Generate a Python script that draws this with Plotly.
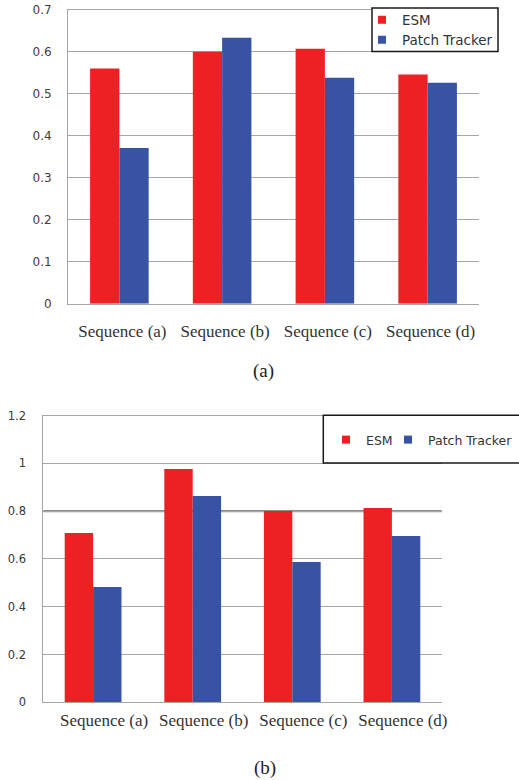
import plotly.graph_objects as go

# Tracking accuracy per sequence for the two trackers
categories = ["Sequence (a)", "Sequence (b)", "Sequence (c)", "Sequence (d)"]
esm_a = [0.56, 0.60, 0.607, 0.546]
patch_a = [0.371, 0.633, 0.538, 0.526]
esm_b = [0.708, 0.976, 0.80, 0.813]
patch_b = [0.482, 0.863, 0.587, 0.696]
series_names = ["ESM", "Patch Tracker"]
yticks_a = [0, 0.1, 0.2, 0.3, 0.4, 0.5, 0.6, 0.7]
yticks_b = [0, 0.2, 0.4, 0.6, 0.8, 1.0, 1.2]
ytext_b = ["0", "0.2", "0.4", "0.6", "0.8", "1", "1.2"]

RED = "#ED2024"
BLUE = "#3953A4"
GRID = "#a6a6a6"
W, H = 519, 780


def px_x(p):
    return p / W


def px_y(p):
    return 1 - p / H


fig = go.Figure()

# Panel (a)
fig.add_trace(go.Bar(x=categories, y=esm_a, marker=dict(color=RED, line_width=0),
                     showlegend=False, xaxis="x", yaxis="y"))
fig.add_trace(go.Bar(x=categories, y=patch_a, marker=dict(color=BLUE, line_width=0),
                     showlegend=False, xaxis="x", yaxis="y"))
# Panel (b)
fig.add_trace(go.Bar(x=categories, y=esm_b, marker=dict(color=RED, line_width=0),
                     showlegend=False, xaxis="x2", yaxis="y2"))
fig.add_trace(go.Bar(x=categories, y=patch_b, marker=dict(color=BLUE, line_width=0),
                     showlegend=False, xaxis="x2", yaxis="y2"))

# Legend entries (square swatches), one small legend per entry so each can be placed
legend_ids = [("legend", "legend2", "x", "y"), ("legend3", "legend4", "x2", "y2")]
for (leg_esm, leg_patch, xa, ya) in legend_ids:
    for name, col, leg in zip(series_names, [RED, BLUE], [leg_esm, leg_patch]):
        fig.add_trace(go.Scatter(x=[None], y=[None], mode="markers", name=name,
                                 marker=dict(symbol="square", size=8, color=col),
                                 legend=leg, xaxis=xa, yaxis=ya))

xlab_font = dict(family="Liberation Serif", size=17, color="#333333")
leg_font_a = dict(family="DejaVu Sans", size=13.5, color="#333333")
leg_font_b = dict(family="DejaVu Sans", size=12.5, color="#333333")


def legend_at(xp, yp, font):
    return dict(x=px_x(xp), y=px_y(yp), xanchor="left", yanchor="middle",
                orientation="v", bgcolor="rgba(0,0,0,0)", borderwidth=0, font=font)


fig.update_layout(
    width=W, height=H,
    margin=dict(l=0, r=0, t=0, b=0, autoexpand=False),
    paper_bgcolor="white", plot_bgcolor="white",
    barmode="group", bargap=0.43, bargroupgap=0,
    xaxis=dict(domain=[px_x(68), px_x(479)], anchor="y", automargin=False,
               showline=True, linecolor=GRID, linewidth=1, mirror=True,
               showgrid=False, ticks="", tickfont=xlab_font,
               ticklabelstandoff=12, ticklabelshift=3),
    yaxis=dict(domain=[px_y(303.7), px_y(9.7)], anchor="x", range=[0, 0.7],
               automargin=False,
               tickvals=yticks_a, ticktext=[str(v) for v in yticks_a],
               showline=True, linecolor=GRID, linewidth=1,
               showgrid=True, gridcolor=GRID, gridwidth=1, zeroline=False,
               ticks="", ticklabelstandoff=13,
               tickfont=dict(family="DejaVu Sans", size=12, color="#404040")),
    xaxis2=dict(domain=[px_x(43.3), px_x(441.7)], anchor="y2", automargin=False,
                showline=True, linecolor=GRID, linewidth=1, mirror=True,
                showgrid=False, ticks="", tickfont=xlab_font,
                ticklabelstandoff=2, ticklabelshift=11),
    yaxis2=dict(domain=[px_y(702.3), px_y(415.5)], anchor="x2", range=[0, 1.2],
                automargin=False,
                tickvals=yticks_b, ticktext=ytext_b,
                showline=True, linecolor=GRID, linewidth=1,
                showgrid=True, gridcolor=GRID, gridwidth=1, zeroline=False,
                ticks="", ticklabelstandoff=14,
                tickfont=dict(family="DejaVu Sans", size=11.5, color="#3a3a3a")),
    legend=legend_at(362, 20, leg_font_a),
    legend2=legend_at(362, 40, leg_font_a),
    legend3=legend_at(326, 440, leg_font_b),
    legend4=legend_at(388, 440, leg_font_b),
    shapes=[
        # legend frames
        dict(type="rect", xref="paper", yref="paper",
             x0=px_x(372), x1=px_x(498), y0=px_y(51.5), y1=px_y(8),
             line=dict(color="#1a1a1a", width=1.5), fillcolor="white", layer="above"),
        dict(type="rect", xref="paper", yref="paper",
             x0=px_x(323.3), x1=px_x(530), y0=px_y(463), y1=px_y(415.3),
             line=dict(color="#1a1a1a", width=1.5), fillcolor="white", layer="above"),
        # heavier 0.8 rule in panel (b)
        dict(type="line", xref="x2 domain", yref="y2", x0=0, x1=1, y0=0.8, y1=0.8,
             line=dict(color="#8c8c8c", width=2.2), layer="below"),
    ],
    annotations=[
        dict(text="(a)", xref="paper", yref="paper", x=px_x(263), y=px_y(371),
             xanchor="center", yanchor="middle", showarrow=False,
             font=dict(family="Liberation Serif", size=19, color="#222222")),
        dict(text="(b)", xref="paper", yref="paper", x=px_x(265), y=px_y(768),
             xanchor="center", yanchor="middle", showarrow=False,
             font=dict(family="Liberation Serif", size=19, color="#222222")),
    ],
)

fig.write_html("out.html")
